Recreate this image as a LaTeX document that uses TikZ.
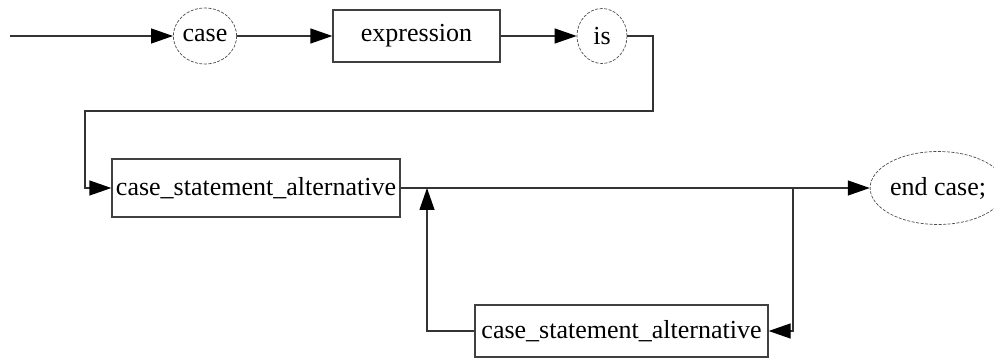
\documentclass[tikz,border=0pt]{standalone}
\usepackage{fontspec}
\setmainfont{LiberationSerif}[Extension=.ttf, UprightFont=*-Regular, BoldFont=*-Bold]
\usetikzlibrary{arrows.meta,shapes.geometric}

\begin{document}
\begin{tikzpicture}[x=1pt,y=-1pt,
    font=\rmfamily\fontsize{26}{30}\selectfont,
    box/.style={draw=black!75, line width=1.3pt, rectangle, inner sep=0pt, minimum height=54pt},
    word/.style={draw=black!70, ellipse, inner sep=0pt, line width=0.7pt, dash pattern=on 3pt off 1.5pt},
    flow/.style={draw=black!80, line width=1.3pt, -{Triangle[length=22pt,width=15pt,color=black]}}]

    \useasboundingbox (0,0) rectangle (994,358);

	%top row
    \coordinate (start) at (10,36);
    \node[word, minimum width=60pt, minimum height=56pt] (case) at (205,36) {case};
    \node[box, minimum width=167pt, minimum height=52pt] (expr) at (416.5,36) {expression};
    \node[word, minimum width=50pt, minimum height=55pt] (is) at (602,36) {is};

    %main row
    \node[box, minimum width=288pt, minimum height=58pt] (alt) at (256,188) {case\_statement\_alternative};
    \node[word, minimum width=106pt, minimum height=73pt] (endcase) at (938,188) {end case;};

    %loop back
    \node[box, minimum width=293pt, minimum height=52pt] (altloop) at (621.5,331) {case\_statement\_alternative};

    \coordinate (isdown) at (653,111);
    \coordinate (altup) at (85,111);
    \coordinate (split) at (793,188);
    \coordinate (join) at (427,188);

    \draw[flow] (start) -- (case);
    \draw[flow] (case) -- (expr);
    \draw[flow] (expr) -- (is);
    \draw[flow] (is.east) -| (isdown) -- (altup) |- (alt.west);
    \draw[flow] (alt) -- (endcase);
    \draw[flow] (split) |- (altloop.east);
    \draw[flow] (altloop.west) -| (join);

\end{tikzpicture}
\end{document}
